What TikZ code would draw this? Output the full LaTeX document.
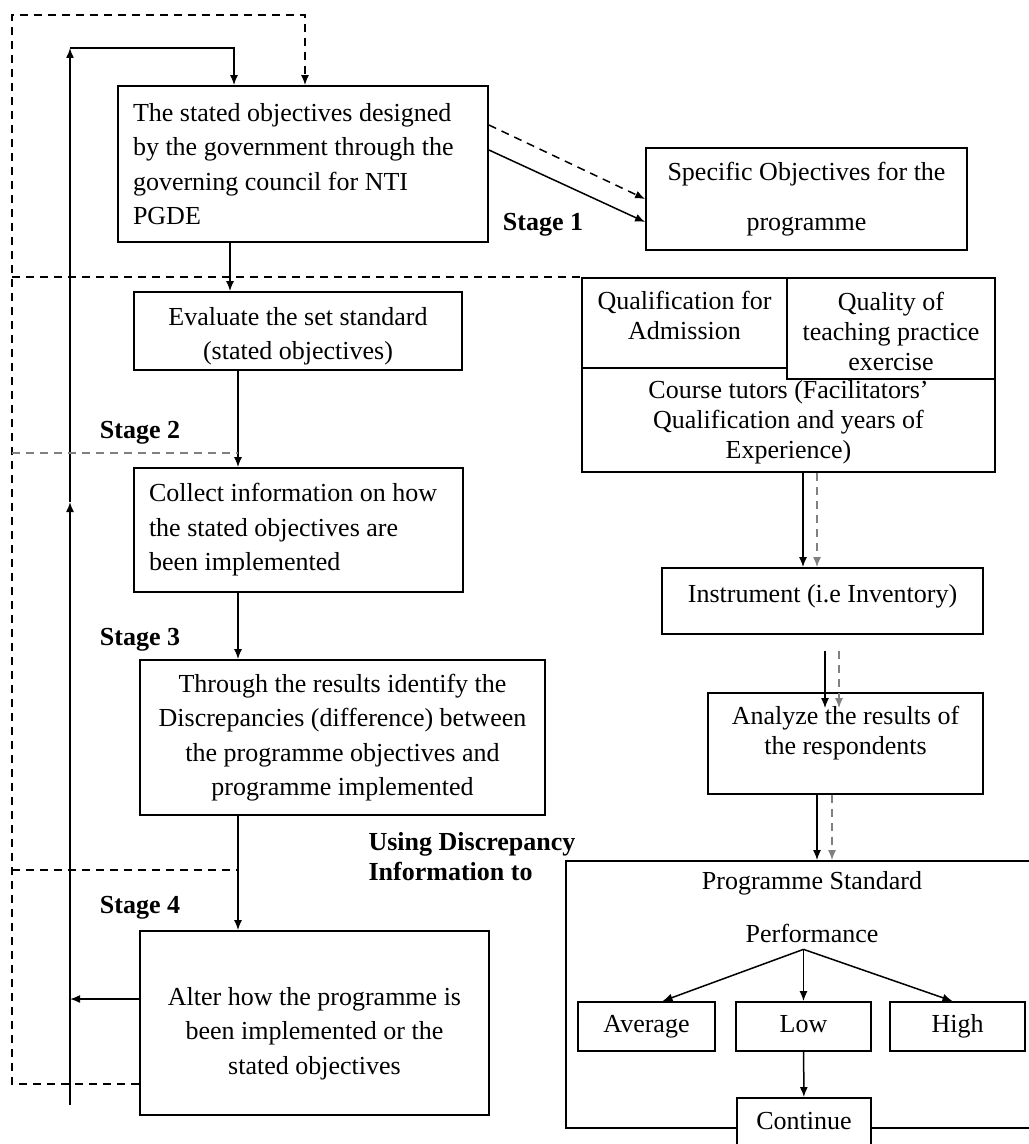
\documentclass[tikz,border=0pt]{standalone}
\usepackage{fontspec}
\setmainfont{Liberation Serif}
\usetikzlibrary{arrows.meta}

\begin{document}
\begin{tikzpicture}[x=0.5pt, y=-0.5pt,
  every node/.style={font=\fontsize{13}{17.25}\selectfont},
  tight/.style={font=\fontsize{13}{15}\selectfont},
  box/.style={draw, line width=0.9pt, inner sep=0pt, align=center},
  small/.style={box, minimum height=24.5pt, text height=9pt, text depth=3pt},
  arr/.style={line width=0.75pt, -{Latex[length=5pt,width=4pt]}},
  darr/.style={arr, dash pattern=on 4pt off 3pt},
  gdarr/.style={darr, gray},
  sep/.style={line width=0.75pt, dash pattern=on 4pt off 3pt},
  stage/.style={font=\fontsize{13}{15}\selectfont\bfseries}]
\useasboundingbox (0,0) rectangle (1028,1144);

% stage boxes, left column
\node[box, minimum width=185pt, minimum height=78pt, text width=170pt, align=flush left] (obj) at (303,164) {The stated objectives designed\\by the government through the\\governing council for NTI\\PGDE};
\node[box, minimum width=164pt, minimum height=39pt, text height=31.5pt] (eval) at (298,331) {Evaluate the set standard\\(stated objectives)};
\node[box, minimum width=164.5pt, minimum height=62pt, text width=149.5pt, align=flush left] (collect) at (298.5,530) {Collect information on how\\the stated objectives are\\been implemented};
\node[box, minimum width=202.5pt, minimum height=77.5pt] (discr) at (342.5,737.5) {Through the results identify the\\Discrepancies (difference) between\\the programme objectives and\\programme implemented};
\node[box, minimum width=174.5pt, minimum height=92pt, text height=54pt] (alter) at (314.5,1023) {Alter how the programme is\\been implemented or the\\stated objectives};

\node[stage] (st1) at (543,225) {Stage 1};
\node[stage] (st2) at (140,433) {Stage 2};
\node[stage] (st3) at (140,640) {Stage 3};
\node[stage] (st4) at (140,908) {Stage 4};
\node[stage, align=left] (using) at (472,857) {Using Discrepancy\\Information to};

% right column
\node[box, minimum width=160.5pt, minimum height=51pt] (spec) at (806.5,199) {Specific Objectives for the\\[8pt]programme};
\node[box, minimum width=206.5pt, minimum height=97pt] (qual) at (788.5,375) {};
\node[box, tight, minimum width=102.5pt, minimum height=45pt, text depth=8pt] (adm) at (684.5,323) {Qualification for\\Admission};
\node[box, tight, minimum width=104pt, minimum height=50.5pt, text height=42pt, fill=white] (qtp) at (891,328.5) {Quality of\\teaching practice\\exercise};
\node[tight, align=center, inner sep=0pt] (tutors) at (788.5,422) {Course tutors (Facilitators'\\Qualification and years of\\Experience)};
\node[box, minimum width=160.5pt, minimum height=33pt, text depth=8pt] (instr) at (822.5,601) {Instrument (i.e Inventory)};
\node[box, tight, minimum width=137.5pt, minimum height=50.5pt, text depth=13.5pt] (analyze) at (845.5,743.5) {Analyze the results of\\the respondents};

% programme standard
\node[box, minimum width=237pt, minimum height=133.5pt] (prog) at (803,994.5) {};
\node (progtitle) at (812,883) {Programme Standard};
\node (perf) at (812,933) {Performance};
\node[small, minimum width=68.5pt] (avg) at (646.5,1026.5) {Average};
\node[small, minimum width=67.5pt] (low) at (803.5,1026.5) {Low};
\node[small, minimum width=67.5pt] (high) at (957.5,1026.5) {High};
\node[small, minimum width=67pt, minimum height=25pt, fill=white] (cont) at (804,1123) {Continue};
\coordinate (fork) at (low.north |- perf.south);

% main flow
\coordinate (spineA) at (230,0);
\coordinate (spineB) at (238,0);
\draw[arr] (obj.south -| spineA) -- (eval.north -| spineA);
\draw[arr] (eval.south -| spineB) -- (collect.north -| spineB);
\draw[arr] (collect.south -| spineB) -- (discr.north -| spineB);
\draw[arr] (discr.south -| spineB) -- (alter.north -| spineB);

\draw[darr] ([yshift=19.5pt]obj.east) -- (spec.west);
\draw[arr] ([yshift=7pt]obj.east) -- ([yshift=-11.5pt]spec.west);

% feedback loops
\coordinate (fbbot) at (70,1105);
\coordinate (fbmid) at (70,502);
\coordinate (fbtop) at (70,48);
\coordinate (fbturn) at (234,48);
\draw[arr] ([yshift=12pt]alter.west) -- ([yshift=12pt]alter.west -| fbbot);
\draw[arr] (fbbot) -- (fbmid);
\draw[arr] (fbmid) -- (fbtop);
\draw[arr] (fbtop) -- (fbturn) -- (obj.north -| fbturn);

\coordinate (dlb) at (12,1084);
\coordinate (dlt) at (12,15);
\coordinate (dtr) at (305,15);
\draw[darr] (alter.west |- dlb) -- (dlb) -- (dlt) -- (dtr) -- (obj.north -| dtr);

% stage separators
\draw[sep] (dlt |- qual.north west) -- (qual.north west);
\draw[sep, gray, line width=1pt] (12,453) -- (238,453);
\draw[sep] (12,870) -- (238,870);

% right column arrows
\draw[arr] ([xshift=7.25pt]qual.south) -- ([xshift=7.25pt]qual.south |- instr.north);
\draw[gdarr] ([xshift=14.25pt]qual.south) -- ([xshift=14.25pt]qual.south |- instr.north);
\draw[arr] ([xshift=1.25pt,yshift=-8pt]instr.south) -- ([xshift=1.25pt,yshift=-8pt]instr.south |- analyze.north);
\draw[gdarr] ([xshift=8.25pt,yshift=-8pt]instr.south) -- ([xshift=8.25pt,yshift=-8pt]instr.south |- analyze.north);
\draw[arr] ([xshift=-14.25pt]analyze.south) -- ([xshift=-14.25pt]analyze.south |- prog.north);
\draw[gdarr] ([xshift=-6.75pt]analyze.south) -- ([xshift=-6.75pt]analyze.south |- prog.north);

\draw[arr] (fork) -- ([xshift=8pt]avg.north);
\draw[arr] (fork) -- (low.north);
\draw[arr] (fork) -- ([xshift=-2.5pt]high.north);
\draw[arr] (low) -- (cont);
\end{tikzpicture}
\end{document}
